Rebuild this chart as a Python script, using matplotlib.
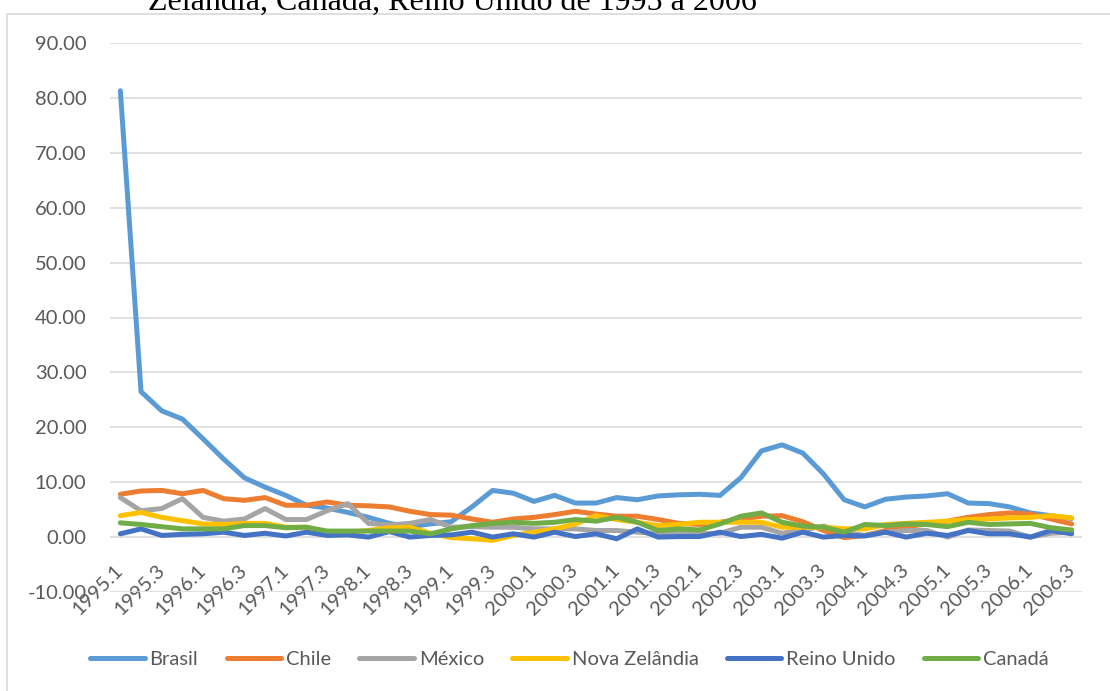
import matplotlib.pyplot as plt
from matplotlib.patches import Rectangle

# quarters 1995.1 .. 2006.3
quarters = [f"{y}.{q}" for y in range(1995, 2007) for q in range(1, 5)][:47]

brasil = [81.3, 26.5, 23.0, 21.5, 17.9, 14.2, 10.8, 9.1, 7.6, 5.8, 5.3, 4.5,
          3.6, 2.5, 1.9, 2.4, 2.8, 5.5, 8.5, 8.0, 6.5, 7.6, 6.2, 6.2,
          7.2, 6.8, 7.5, 7.7, 7.8, 7.6, 10.8, 15.7, 16.8, 15.3, 11.5, 6.8,
          5.5, 6.9, 7.3, 7.5, 7.9, 6.2, 6.1, 5.5, 4.4, 3.9, 3.4]
chile = [7.8, 8.4, 8.5, 7.9, 8.5, 7.0, 6.7, 7.2, 5.8, 5.8, 6.4, 5.8,
         5.7, 5.5, 4.7, 4.1, 4.0, 3.3, 2.7, 3.3, 3.6, 4.1, 4.7, 4.2,
         3.8, 3.8, 3.2, 2.5, 2.3, 2.7, 3.3, 3.8, 3.9, 2.8, 1.2, -0.1,
         0.3, 1.2, 1.9, 2.4, 2.9, 3.6, 4.1, 4.4, 4.2, 3.3, 2.4]
mexico = [7.2, 4.8, 5.2, 7.0, 3.6, 2.9, 3.3, 5.2, 3.2, 3.2, 4.8, 6.1,
          2.5, 2.2, 2.5, 3.2, 1.8, 1.9, 1.8, 1.8, 1.5, 1.5, 1.5, 1.2,
          1.2, 0.9, 0.6, 0.7, 0.6, 0.7, 1.8, 1.8, 0.7, 1.3, 2.0, 0.9,
          0.3, 0.9, 1.2, 1.2, 0.0, 1.3, 1.2, 1.1, 0.0, 0.7, 0.9]
nova_zelandia = [3.9, 4.5, 3.6, 3.0, 2.4, 2.3, 2.5, 2.5, 1.8, 1.8, 0.9, 0.9,
                 1.2, 1.7, 1.8, 0.7, -0.1, -0.3, -0.6, 0.3, 0.9, 1.5, 2.4, 3.9,
                 3.2, 2.7, 2.1, 2.3, 2.7, 2.7, 2.7, 2.7, 1.8, 1.8, 1.8, 1.5,
                 1.5, 2.3, 2.5, 2.7, 2.9, 3.2, 3.3, 3.5, 3.6, 3.9, 3.5]
reino_unido = [0.6, 1.5, 0.3, 0.5, 0.6, 0.9, 0.3, 0.7, 0.2, 0.9, 0.3, 0.4,
               0.0, 1.0, 0.0, 0.3, 0.4, 0.9, 0.0, 0.6, 0.0, 0.9, 0.1, 0.6,
               -0.3, 1.5, 0.0, 0.1, 0.1, 0.9, 0.1, 0.5, -0.2, 0.9, 0.0, 0.3,
               0.2, 0.9, 0.0, 0.7, 0.3, 1.2, 0.6, 0.6, 0.0, 1.2, 0.6]
canada = [2.6, 2.3, 1.9, 1.5, 1.5, 1.5, 2.1, 2.1, 1.7, 1.8, 1.1, 1.1,
          1.1, 1.1, 1.1, 0.6, 1.5, 2.1, 2.5, 2.7, 2.5, 2.7, 3.2, 2.9,
          3.6, 2.7, 1.2, 1.5, 1.3, 2.4, 3.8, 4.4, 2.7, 2.0, 1.8, 0.9,
          2.3, 2.1, 2.4, 2.3, 1.9, 2.7, 2.3, 2.4, 2.5, 1.7, 1.3]

names = ["Brasil", "Chile", "México", "Nova Zelândia", "Reino Unido", "Canadá"]
colors = ["#5B9BD5", "#ED7D31", "#A5A5A5", "#FFC000", "#4472C4", "#70AD47"]
values = [brasil, chile, mexico, nova_zelandia, reino_unido, canada]

TXT = "#595959"
FS = 14.5

fig = plt.figure(figsize=(11.1, 6.91), dpi=100)
ax = fig.add_axes([110/1110, 1-592/691, (1082-110)/1110, (592-43)/691])

x = list(range(len(quarters)))
for name, vals, col in zip(names, values, colors):
    ax.plot(x, vals, color=col, lw=3.6, label=name,
            solid_capstyle='round', solid_joinstyle='round')

# category axis crosses at 0, labels hang from there
for s in ax.spines.values():
    s.set_visible(False)
ax.spines['bottom'].set_position(('data', 0))

ax.set_xlim(-0.5, len(quarters) - 0.5)
ax.set_ylim(-10, 90)
yt = list(range(-10, 91, 10))
ax.set_yticks(yt)
ax.set_yticklabels([f"{v:.2f}" for v in yt], family='Lato', fontsize=FS, color=TXT)
ax.set_xticks(x[::2])
ax.set_xticklabels(quarters[::2], family='Lato', fontsize=FS, color=TXT,
                   rotation=45, ha='right', va='center', rotation_mode='anchor')
ax.grid(axis='y', color='#D9D9D9', lw=1.1)
ax.set_axisbelow(True)
ax.tick_params(axis='x', length=0, pad=22)
ax.tick_params(axis='y', length=0, pad=17)

leg = fig.legend(loc='center', bbox_to_anchor=(0.513, 0.046), ncol=6, frameon=False,
                 handlelength=2.7, handletextpad=0.25, columnspacing=1.4,
                 prop={'family': 'Lato', 'size': FS})
for t in leg.get_texts():
    t.set_color(TXT)

fig.text(452/1110, 1-10/691, "Zelândia, Canadá, Reino Unido de 1995 a 2006",
         family='Liberation Serif', fontsize=23, ha='center', va='baseline')

fig.add_artist(Rectangle((7/1110, -0.05), 1.1, 1-14/691+0.05, transform=fig.transFigure,
                         fill=False, ec='#D9D9D9', lw=1.2))

fig.savefig('out.png', dpi=100)
